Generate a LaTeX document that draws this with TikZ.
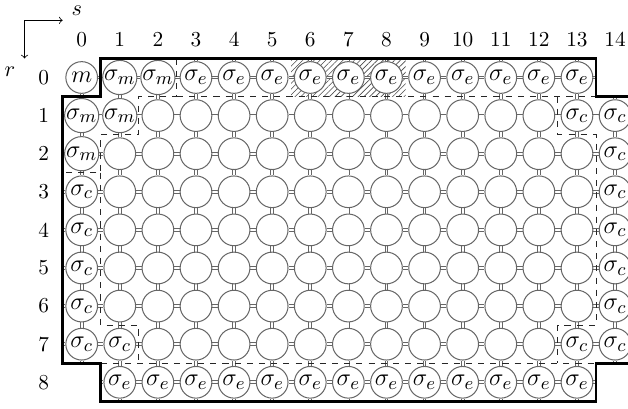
\documentclass[tikz,border=0pt]{standalone}
\usetikzlibrary{patterns.meta}
\pgfdeclarelayer{hatch}
\pgfdeclarelayer{links}
\pgfsetlayers{hatch,links,main}
\tikzset{
  site/.style={circle, draw=black!60, fill=white, line width=0.5pt, minimum size=0.549cm, inner sep=0pt,
    font=\fontsize{12.5}{15}\selectfont},
  link/.style={draw=black!60, double=white, double distance=0.9pt, line width=0.45pt},
  outline/.style={line width=1.4pt, line join=miter},
  region/.style={dashed, line width=0.45pt, draw=black!85},
  lab/.style={inner sep=1pt, font=\fontsize{10.5}{12}\selectfont}
}
\begin{document}
\begin{tikzpicture}[x=0.66cm,y=0.66cm]
\clip (-2.144,-8.70) rectangle (14.339,2.034);
% hatched strip
\begin{pgfonlayer}{hatch}
  \path[pattern={Lines[angle=45,distance=2pt,line width=0.3pt]}, pattern color=black!70]
    (5.5,-0.5) rectangle (8.5,0.5);
\end{pgfonlayer}
% sites
\node[site] (n-0-0) at (0,0) {$m$};
\foreach \co in {1,2} \node[site] (n-0-\co) at (\co,0) {$\sigma_m$};
\foreach \co in {3,...,13} \node[site] (n-0-\co) at (\co,0) {$\sigma_e$};
\node[site] (n-1-0) at (0,-1) {$\sigma_m$};
\node[site] (n-1-1) at (1,-1) {$\sigma_m$};
\node[site] (n-2-0) at (0,-2) {$\sigma_m$};
\foreach \ro in {3,...,7} \node[site] (n-\ro-0) at (0,-\ro) {$\sigma_c$};
\node[site] (n-7-1) at (1,-7) {$\sigma_c$};
\foreach \ro in {1,...,7} \node[site] (n-\ro-14) at (14,-\ro) {$\sigma_c$};
\node[site] (n-1-13) at (13,-1) {$\sigma_c$};
\node[site] (n-7-13) at (13,-7) {$\sigma_c$};
\foreach \co in {1,...,13} \node[site] (n-8-\co) at (\co,-8) {$\sigma_e$};
\foreach \co in {2,...,12} \node[site] (n-1-\co) at (\co,-1) {};
\foreach \co in {2,...,12} \node[site] (n-7-\co) at (\co,-7) {};
\foreach \ro in {2,...,6}{\foreach \co in {1,...,13} \node[site] (n-\ro-\co) at (\co,-\ro) {};}
% links between neighbours
\begin{pgfonlayer}{links}
\foreach \ro in {0,...,8}{\foreach \co in {0,...,14}{
  \pgfmathtruncatemacro\cn{\co+1}
  \pgfmathtruncatemacro\rn{\ro+1}
  \ifcsname pgf@sh@ns@n-\ro-\co\endcsname
    \ifcsname pgf@sh@ns@n-\ro-\cn\endcsname \draw[link] (n-\ro-\co) -- (n-\ro-\cn); \fi
    \ifcsname pgf@sh@ns@n-\rn-\co\endcsname \draw[link] (n-\ro-\co) -- (n-\rn-\co); \fi
  \fi
}}
% stubs to the outline
\foreach \co in {1,...,13} \draw[link] (n-0-\co) -- +(0,0.5);
\draw[link] (n-1-14) -- +(0,0.5);
\foreach \ro in {1,...,7} \draw[link] (n-\ro-0) -- +(-0.5,0);
\draw[link] (n-8-1) -- +(-0.5,0);
\foreach \co in {1,...,13} \draw[link] (n-8-\co) -- +(0,-0.5);
\draw[link] (n-7-0) -- +(0,-0.5);
\draw[link] (n-7-14) -- +(0,-0.5);
\foreach \ro in {1,...,7} \draw[link] (n-\ro-14) -- +(0.5,0);
\draw[link] (n-0-13) -- +(0.5,0);
\draw[link] (n-8-13) -- +(0.5,0);
\end{pgfonlayer}
% dashed region boundaries
\draw[region] (2.5,0.5) -- (2.5,-0.5) -- (1.5,-0.5) -- (1.5,-1.5) -- (0.5,-1.5) -- (0.5,-2.5) -- (-0.5,-2.5);
\draw[region] (2.5,-0.5) -- (13.5,-0.5);
\draw[region] (12.5,-0.5) -- (12.5,-1.5) -- (13.5,-1.5) -- (13.5,-6.5) -- (12.5,-6.5) -- (12.5,-7.5);
\draw[region] (0.5,-2.5) -- (0.5,-6.5) -- (1.5,-6.5) -- (1.5,-7.5);
\draw[region] (0.5,-7.5) -- (13.5,-7.5);
% thick outline
\draw[outline] (0.5,0.5) -- (13.5,0.5) -- (13.5,-0.5) -- (14.5,-0.5) -- (14.5,-7.5) -- (13.5,-7.5)
  -- (13.5,-8.5) -- (0.5,-8.5) -- (0.5,-7.5) -- (-0.5,-7.5) -- (-0.5,-0.5) -- (0.5,-0.5) -- cycle;
% index labels
\foreach \co in {0,...,14} \node[lab] (c\co) at (\co,1) {\co};
\foreach \ro in {0,...,8} \node[lab] (r\ro) at (-1,-\ro) {\ro};
% axes
\coordinate (ax) at (-1.5,1.5);
\coordinate (axs) at (-0.5,1.5);
\coordinate (axr) at (-1.5,0.5);
\draw[->, line width=0.4pt] (ax) -- (axs);
\draw[->, line width=0.4pt] (ax) -- (axr);
\node[lab, inner sep=0pt] (sl) at (-0.13,1.76) {$s$};
\node[lab] (rl) at (-1.88,0.15) {$r$};
\end{tikzpicture}
\end{document}
